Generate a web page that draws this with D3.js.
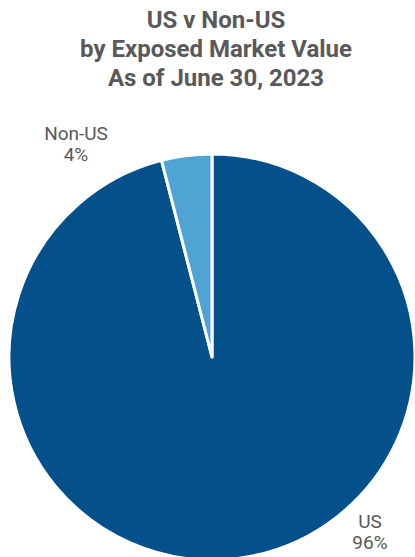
<!DOCTYPE html>
<html>
<head>
<meta charset="utf-8">
<script src="https://cdn.jsdelivr.net/npm/d3@7"></script>
<style>
  html, body { margin: 0; padding: 0; background: #ffffff; }
  svg { display: block; }
</style>
</head>
<body>
<svg id="chart" width="415" height="557"></svg>
<script>
// Exposure split
const categories = ["US", "Non-US"];
const values = [96, 4];
const colors = ["#03508A", "#4FA4D4"];
const titleLines = ["US v Non-US", "by Exposed Market Value", "As of June 30, 2023"];

const svg = d3.select("#chart");
const cx = 212, cy = 357, radius = 203;

// Title
svg.append("g")
  .selectAll("text")
  .data(titleLines)
  .join("text")
  .attr("x", 216)
  .attr("y", (d, i) => 28 + i * 29)
  .attr("text-anchor", "middle")
  .attr("font-family", "Roboto, 'Noto Sans', sans-serif")
  .attr("font-weight", "bold")
  .attr("font-size", 24)
  .attr("fill", "#595959")
  .text(d => d);

const rows = categories.map((c, i) => ({ name: c, value: values[i], color: colors[i] }));

const pie = d3.pie().sort(null).value(d => d.value);
const arc = d3.arc().innerRadius(0).outerRadius(radius);

const g = svg.append("g").attr("transform", `translate(${cx},${cy})`);

g.selectAll("path")
  .data(pie(rows))
  .join("path")
  .attr("d", arc)
  .attr("fill", d => d.data.color)
  .attr("stroke", "#ffffff")
  .attr("stroke-width", 3)
  .attr("stroke-linejoin", "round");

// Category labels outside the pie
const labelPos = { "US": [370, 528], "Non-US": [76, 140] };
const labels = svg.append("g")
  .attr("font-family", "Roboto, 'Noto Sans', sans-serif")
  .attr("font-size", 19)
  .attr("fill", "#595959")
  .attr("text-anchor", "middle");

rows.forEach(r => {
  const [x, y] = labelPos[r.name];
  const t = labels.append("text").attr("x", x).attr("y", y);
  t.append("tspan").attr("x", x).text(r.name);
  t.append("tspan").attr("x", x).attr("dy", 21).text(r.value + "%");
});
</script>
</body>
</html>
